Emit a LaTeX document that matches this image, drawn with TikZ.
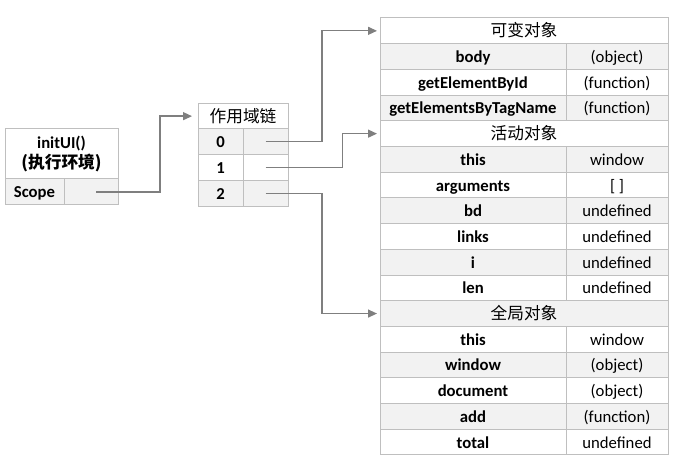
\documentclass[tikz,border=0pt]{standalone}
\usepackage{fontspec}
\setmainfont{Carlito}
\newfontfamily\cjk{Noto Sans CJK SC}
\usetikzlibrary{arrows.meta,positioning}
\definecolor{cellgray}{HTML}{F2F2F2}
\definecolor{linegray}{HTML}{BFBFBF}
\definecolor{arrowgray}{HTML}{7F7F7F}
\newcommand{\cellfont}{\fontsize{16.7}{20}\selectfont}

\begin{document}
\begin{tikzpicture}[x=1pt,y=-1pt,
  box/.style={draw=linegray,line width=1pt,inner sep=0pt,outer sep=0pt,anchor=north west,font=\cellfont},
  cell/.style={box,minimum height=25.7pt,text height=12pt,text depth=0pt},
  keycell/.style={cell,minimum width=186pt,font=\cellfont\bfseries},
  valcell/.style={cell,minimum width=102pt},
  headcell/.style={cell,minimum width=288pt,font=\cellfont\cjk},
  link/.style={-{Triangle[length=9pt,width=8pt]},color=arrowgray,line width=1.3pt}]
  \fill[white] (0,0) rectangle (687,470);
  \useasboundingbox (0,0) rectangle (687,470);

  % execution context
  \node[box,minimum width=113pt,minimum height=50pt,align=center,font=\cellfont\bfseries] (init) at (5,129) {initUI()\\{\cjk (执行环境)}};
  \node[cell,minimum width=59pt,minimum height=26pt,fill=cellgray,font=\cellfont\bfseries] (scopek) at (5,179) {Scope};
  \node[cell,minimum width=54pt,minimum height=26pt,fill=cellgray] (scopev) at (64,179) {};

  % scope chain
  \node[cell,minimum width=90pt,font=\cellfont\cjk] (chain) at (198,103.3) {作用域链};
  \foreach \r/\c in {0/cellgray,1/white,2/cellgray}
  {
    \node[cell,minimum width=45pt,fill=\c,font=\cellfont\bfseries] (c\r k) at (198,129+\r*25.7) {\r};
    \node[cell,minimum width=45pt,fill=\c] (c\r v) at (243,129+\r*25.7) {};
  }

  % variable objects
  \node[headcell,fill=white] (h1) at (380,18) {可变对象};
  \node[headcell,fill=white] (h2) at (380,18+4*25.7) {活动对象};
  \node[headcell,fill=cellgray] (h3) at (380,18+11*25.7) {全局对象};
  \foreach \r/\k/\v/\c in {1/body/(object)/cellgray, 2/getElementById/(function)/white,
    3/getElementsByTagName/(function)/cellgray, 5/this/window/cellgray, 6/arguments/{[ ]}/white,
    7/bd/undefined/cellgray, 8/links/undefined/white, 9/i/undefined/cellgray,
    10/len/undefined/white, 12/this/window/white, 13/window/(object)/cellgray,
    14/document/(object)/white, 15/add/(function)/cellgray, 16/total/undefined/white}
  {
    \node[keycell,fill=\c] (k\r) at (380,18+\r*25.7) {\k};
    \node[valcell,fill=\c] (v\r) at (566,18+\r*25.7) {\v};
  }

  \draw[link,shorten >=6pt] (scopev.center) ++(5,0) -- ++(64,0) |- (chain.west);
  \draw[link,shorten >=3pt] (c0v.center) -- ++(56.5,0) |- (h1.west);
  \draw[link,shorten >=3pt] (c1v.center) -- ++(77,0) |- (h2.west);
  \draw[link,shorten >=3pt] (c2v.center) -- ++(56.5,0) |- (h3.west);
\end{tikzpicture}
\end{document}
